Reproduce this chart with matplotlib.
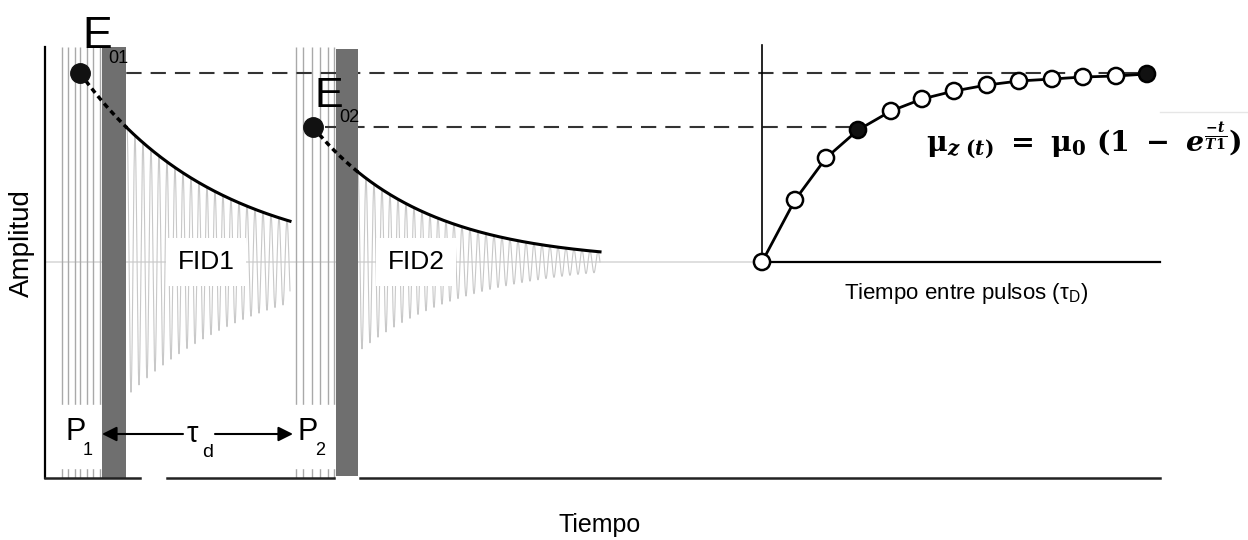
import numpy as np
import matplotlib.pyplot as plt

plt.rcParams["font.family"] = ["Liberation Sans", "DejaVu Sans"]
plt.rcParams["mathtext.fontset"] = "custom"
plt.rcParams["mathtext.rm"] = "DejaVu Serif:bold"
plt.rcParams["mathtext.it"] = "DejaVu Serif:italic:bold"
plt.rcParams["mathtext.bf"] = "DejaVu Serif:bold"
plt.rcParams["lines.scale_dashes"] = False

# schematic units: x = time (px-like), y = amplitude above the zero line
e01 = 189          # first echo amplitude
e02 = 135          # second echo amplitude
t_e01 = 80         # time of E01 dot
t_e02 = 313        # time of E02 dot
t2_fid1 = 137      # decay constants read from envelopes
t2_fid2 = 111
fid1_span = [127, 290]
fid2_span = [358, 600]
fid_period = 8
pulse1_lines = [62, 68, 75, 80, 87, 93, 100]
pulse2_lines = [296, 303, 312, 320, 328, 334]
bar1 = [102, 126]
bar2 = [336, 358]

# recovery curve (right panel)
recov_t = [762, 795, 826, 858, 891, 922, 954, 987, 1019, 1052, 1083, 1116, 1147]
recov_amp = [0, 62, 104, 132, 151, 163, 171, 177, 181, 183, 185, 186, 188]
recov_filled = [3, 12]

top, bottom = 215, -216

fig = plt.figure(figsize=(12.48, 5.4), dpi=100)
ax = fig.add_axes([0, 0, 1, 1])
ax.set_xlim(0, 1248)
ax.set_ylim(-278, 262)
ax.axis("off")

# zero line (light in the left part)
ax.plot([45, 762], [0, 0], color="#d9d9d9", lw=1.2, zorder=1)

# rf pulses
ax.vlines(pulse1_lines, bottom, top, color="#a9a9a9", lw=1.0, zorder=2)
ax.vlines(pulse2_lines, bottom, top, color="#a9a9a9", lw=1.0, zorder=2)


def fid(span, e0, t0, t2):
    x = np.linspace(span[0], span[1], 4000)
    env = e0 * np.exp(-(x - t0) / t2)
    ax.plot(x, env * np.cos(2 * np.pi * (x - span[0]) / fid_period),
            color="#c8c8c8", lw=0.8, zorder=2)
    ax.plot(x, env, color="black", lw=2.2, zorder=5)
    xd = np.linspace(t0, span[0], 50)
    ax.plot(xd, e0 * np.exp(-(xd - t0) / t2), color="black", lw=2.5,
            dashes=(4, 3), zorder=5)


fid(fid1_span, e01, t_e01, t2_fid1)
fid(fid2_span, e02, t_e02, t2_fid2)

# white boxes under pulse labels
for ln in (pulse1_lines, pulse2_lines):
    ax.fill_between([ln[0] - 8, ln[-1] + 1], -143, -206, color="white", zorder=3)

# dark grey pulse bars
ax.fill_between(bar1, top, bottom, color="#6f6f6f", lw=0, zorder=4)
ax.fill_between(bar2, 213, -214, color="#6f6f6f", lw=0, zorder=4)

# axes lines
ax.plot([45, 45], [top, bottom], color="black", lw=1.6, zorder=6)
for seg in ([45, 140], [167, 334], [360, 1160]):
    ax.plot(seg, [bottom, bottom], color="#222222", lw=1.8, zorder=6)

# dashed reference lines
ax.plot([102, 1150], [e01, e01], color="#333333", lw=1.5, dashes=(11, 6.5), zorder=3)
ax.plot([325, 858], [e02, e02], color="#333333", lw=1.5, dashes=(11, 6.5), zorder=3)

# echo dots
ax.plot([t_e01, t_e02], [e01, e02], "o", color="#111111", ms=14, zorder=7)

# right panel
ax.plot([762, 762], [217, 0], color="black", lw=1.2, zorder=6)
ax.plot([762, 1160], [0, 0], color="black", lw=1.6, zorder=6)
ax.plot(recov_t, recov_amp, color="black", lw=2, zorder=7)
faces = ["#111111" if i in recov_filled else "white" for i in range(len(recov_t))]
ax.scatter(recov_t, recov_amp, s=135, c=faces, edgecolors="black",
           linewidths=1.8, zorder=8)

# labels
ax.text(82, 214, "E", fontsize=32, ha="left", va="baseline", zorder=9)
ax.text(108, 199, "01", fontsize=13, ha="left", va="baseline", zorder=9)
ax.text(314, 155, "E", fontsize=31, ha="left", va="baseline", zorder=9)
ax.text(339, 140, "02", fontsize=13, ha="left", va="baseline", zorder=9)

for xc, lab in ((206, "FID1"), (416, "FID2")):
    ax.text(xc, 0, lab, fontsize=19, ha="center", va="center", zorder=9,
            bbox=dict(boxstyle="square,pad=0.45", fc="white", ec="none"))

ax.text(65, -178, "P", fontsize=22, ha="left", va="baseline", zorder=9)
ax.text(83, -193, "1", fontsize=13, ha="left", va="baseline", zorder=9)
ax.text(298, -178, "P", fontsize=22, ha="left", va="baseline", zorder=9)
ax.text(315, -193, "2", fontsize=13, ha="left", va="baseline", zorder=9)

ax.annotate("", xy=(102, -172), xytext=(183, -172), zorder=9,
            arrowprops=dict(arrowstyle="-|>", color="black", lw=1.5,
                            mutation_scale=22, shrinkA=0, shrinkB=0))
ax.annotate("", xy=(293, -172), xytext=(215, -172), zorder=9,
            arrowprops=dict(arrowstyle="-|>", color="black", lw=1.5,
                            mutation_scale=22, shrinkA=0, shrinkB=0))
ax.text(187, -180, "τ", fontsize=21, ha="left", va="baseline", zorder=9)
ax.text(202, -195, "d", fontsize=14, ha="left", va="baseline", zorder=9)

ax.text(22, 19, "Amplitud", fontsize=20, rotation=90, ha="center", va="center")
ax.text(600, -263, "Tiempo", fontsize=18, ha="center", va="center")
ax.text(966, -31, r"Tiempo entre pulsos ($\mathregular{\tau_D}$)", fontsize=16,
        ha="center", va="center")

ax.plot([1160, 1248], [150, 150], color="#e6e6e6", lw=1, zorder=1)
ax.text(926, 121, r"$\mathrm{\mu}_{z\ (t)}\ =\ \mathrm{\mu}_0\ (1\ -\ e^{\frac{-t}{T1}})$",
        fontsize=20.5, ha="left", va="center", zorder=9,
        bbox=dict(boxstyle="square,pad=0.1", fc="white", ec="none"))

fig.savefig("out.png", dpi=100)
